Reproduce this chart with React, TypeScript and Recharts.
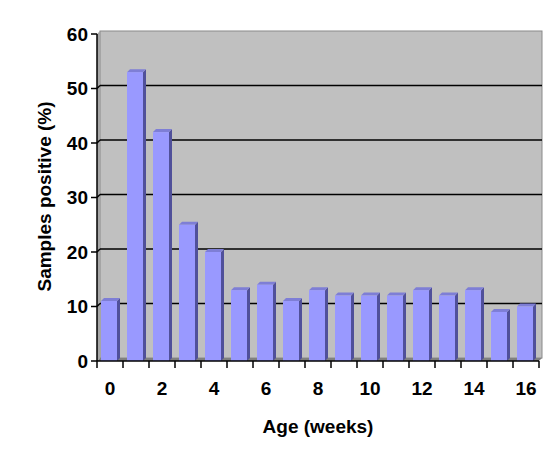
import React from "react";
import { BarChart, Bar, XAxis, YAxis, CartesianGrid, Label } from "recharts";

const ages = [0, 1, 2, 3, 4, 5, 6, 7, 8, 9, 10, 11, 12, 13, 14, 15, 16];
const positive = [11, 53, 42, 25, 20, 13, 14, 11, 13, 12, 12, 12, 13, 12, 13, 9, 10];
const yTicks = [0, 10, 20, 30, 40, 50, 60];

const data = ages.map((a, i) => ({ age: a, value: positive[i] }));

const FONT = "'Liberation Sans', Arial, sans-serif";
const D = 3;

const Bar3D = (props: any) => {
  const { x, y, width, height } = props;
  if (height == null || height <= 0) return null;
  const fx = x - 1;
  const w = width;
  const fy = y;
  const b = y + height;
  return (
    <g>
      <polygon
        points={`${fx + w},${fy} ${fx + w + D},${fy - D} ${fx + w + D},${b - D} ${fx + w},${b}`}
        fill="#50509A"
      />
      <polygon
        points={`${fx},${fy} ${fx + D},${fy - D} ${fx + w + D},${fy - D} ${fx + w},${fy}`}
        fill="#7E7ED6"
      />
      <rect x={fx} y={fy} width={w} height={height} fill="#9999FF" />
    </g>
  );
};

const gridLine = (props: any) => {
  const { x, y, width, height, y1, index } = props;
  const top = y;
  const bottom = y + height;
  const isEdge = Math.abs(y1 - top) < 1 || Math.abs(y1 - bottom) < 1;
  return (
    <g key={`g-${index}`}>
      {index === 0 && (
        <g>
          <rect x={x + D} y={top - D} width={width} height={height} fill="#C0C0C0" stroke="#8A8A8A" strokeWidth={1} />
          <polygon points={`${x},${top} ${x + D},${top - D} ${x + D},${bottom - D} ${x},${bottom}`} fill="#A6A6A6" />
          <polygon points={`${x},${bottom} ${x + D},${bottom - D} ${x + width + D},${bottom - D} ${x + width},${bottom}`} fill="#808080" />
        </g>
      )}
      {!isEdge && (
        <g>
          <line x1={x + D} y1={y1 - D} x2={x + width + D} y2={y1 - D} stroke="#000" strokeWidth={1.5} />
          <line x1={x} y1={y1} x2={x + D} y2={y1 - D} stroke="#000" strokeWidth={1.5} />
        </g>
      )}
    </g>
  );
};

const XTick = (props: any) => {
  const { x, y, payload, index, width } = props;
  const n = ages.length;
  const bw = typeof width === "number" && width > 0 ? width / n : 26;
  const axisY = 361;
  return (
    <g>
      <line x1={x - bw / 2} y1={axisY} x2={x - bw / 2} y2={axisY + 7} stroke="#000" strokeWidth={1.5} />
      {index === n - 1 && (
        <line x1={x + bw / 2} y1={axisY} x2={x + bw / 2} y2={axisY + 7} stroke="#000" strokeWidth={1.5} />
      )}
      {payload.value % 2 === 0 && (
        <text x={x} y={axisY + 34} textAnchor="middle" fontFamily={FONT} fontWeight="bold" fontSize={19} fill="#000">
          {payload.value}
        </text>
      )}
    </g>
  );
};

export default function App() {
  return (
    <div style={{ position: "absolute", left: 0, top: 0, width: 558, height: 452, background: "#fff" }}>
      <BarChart
        width={558}
        height={452}
        data={data}
        margin={{ top: 34, right: 19, left: 0, bottom: 0 }}
        barCategoryGap={0}
      >
        <CartesianGrid vertical={false} horizontal={gridLine} />
        <XAxis
          dataKey="age"
          type="category"
          interval={0}
          height={91}
          tickLine={false}
          tick={<XTick />}
          axisLine={{ stroke: "#000", strokeWidth: 1.5 }}
        >
          <Label
            content={(p: any) => {
              const vb = p.viewBox || {};
              return (
                <text x={vb.x + vb.width / 2} y={vb.y + 72} textAnchor="middle" fontFamily={FONT} fontWeight="bold" fontSize={19} fill="#000">
                  Age (weeks)
                </text>
              );
            }}
          />
        </XAxis>
        <YAxis
          type="number"
          domain={[0, 60]}
          ticks={yTicks}
          interval={0}
          width={97}
          tickSize={6}
          tickMargin={3}
          tickLine={{ stroke: "#000", strokeWidth: 1.5 }}
          axisLine={{ stroke: "#000", strokeWidth: 1.5 }}
          tick={{ fontFamily: FONT, fontWeight: "bold", fontSize: 19, fill: "#000" }}
        >
          <Label
            content={(p: any) => {
              const vb = p.viewBox || {};
              const cy = vb.y + vb.height / 2 - 1;
              return (
                <text x={51} y={cy} transform={`rotate(-90, 51, ${cy})`} textAnchor="middle" fontFamily={FONT} fontWeight="bold" fontSize={19} fill="#000">
                  Samples positive (%)
                </text>
              );
            }}
          />
        </YAxis>
        <Bar dataKey="value" barSize={16} shape={<Bar3D />} isAnimationActive={false} />
      </BarChart>
    </div>
  );
}
